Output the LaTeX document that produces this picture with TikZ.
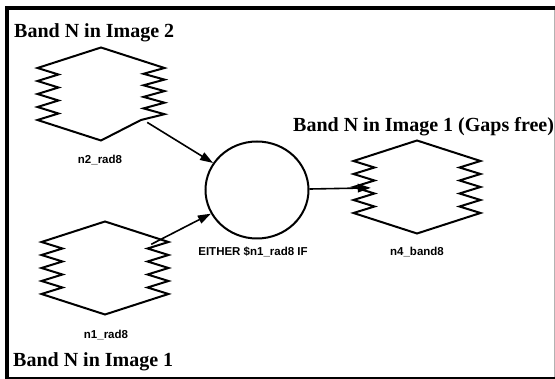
\documentclass[tikz,border=0pt]{standalone}
\usepackage{fontspec}
\setmainfont{Liberation Serif}
\setsansfont{Liberation Sans}
\usetikzlibrary{arrows.meta,shapes.geometric}

\tikzset{
  wire/.style={line width=2pt},
  link/.style={line width=1.6pt, -{Triangle[length=13pt,width=8.5pt]}},
  hexanchor/.style={rectangle, minimum width=92pt, minimum height=60pt, inner sep=0pt},
  ring/.style={ellipse, draw, line width=2pt, minimum width=103pt, minimum height=97pt, inner sep=0pt},
  title/.style={font=\bfseries\fontsize{20}{24}\selectfont, inner sep=0pt, anchor=base west},
  tag/.style={font=\sffamily\bfseries\fontsize{11.5}{13}\selectfont, inner sep=0pt},
  % hexagon whose two vertical sides are zigzags, both ending on the outer side
  zzhex/.pic={
    \draw[wire, line join=miter]
      (0,-46.5) -- (-63.5,-26) -- (-42.5,-19.5) -- (-63.5,-13) -- (-42.5,-6.5)
      -- (-63.5,0) -- (-42.5,6.5) -- (-63.5,13) -- (-42.5,19.5) -- (-63.5,26)
      -- (0,46.5) -- (63.5,26) -- (42.5,19.5) -- (63.5,13) -- (42.5,6.5)
      -- (63.5,0) -- (42.5,-6.5) -- (63.5,-13) -- (42.5,-19.5) -- (63.5,-26)
      -- cycle;
  },
  % variant whose right zigzag ends on its inner side
  zzhexb/.pic={
    \draw[wire, line join=miter]
      (0,-46.5) -- (-63.5,-26) -- (-42.5,-19.5) -- (-63.5,-13) -- (-42.5,-6.5)
      -- (-63.5,0) -- (-42.5,6.5) -- (-63.5,13) -- (-42.5,19.5) -- (-63.5,26)
      -- (0,46.5) -- (40,26) -- (63.5,20.2) -- (42.5,14.4) -- (63.5,8.7)
      -- (42.5,2.9) -- (63.5,-2.9) -- (42.5,-8.7) -- (63.5,-14.4) -- (42.5,-20.2)
      -- (63.5,-26) -- cycle;
  }
}

\begin{document}
\begin{tikzpicture}[x=1pt, y=-1pt]
  \useasboundingbox (0,0) rectangle (555,379);
  \fill[white] (0,0) rectangle (555,379);

  % hexagon blocks
  \node[hexanchor] (n2) at (101,94) {};
  \pic at (n2.center) {zzhexb};
  \node[hexanchor] (n1) at (105,268) {};
  \pic at (n1.center) {zzhex};
  \node[hexanchor] (n4) at (417,187) {};
  \pic at (n4.center) {zzhex};

  % condition node
  \node[ring] (c) at (257,190) {};

  % labels under the blocks
  \node[tag] (l2) at (100,160) {n2\_rad8};
  \node[tag] (l1) at (106,335) {n1\_rad8};
  \node[tag] (l4) at (417,252) {n4\_band8};
  \node[tag] (lc) at (253,252) {EITHER \$n1\_rad8 IF};

  % titles
  \node[title] (t2) at (14,38) {Band N in Image 2};
  \node[title] (t1) at (13,367) {Band N in Image 1};
  \node[title] (t4) at (293,132) {Band N in Image 1 (Gaps free)};

  % connectors
  \draw[link] (n2) -- (c);
  \draw[link] (n1) -- (c);
  \draw[link] (c) -- (n4);

  % frame
  \fill[black] (5,6) rectangle (555,10);
  \fill[black] (5,6) rectangle (8.5,379);
  \fill[black] (5,377) rectangle (555,379);
  \draw[gray!60, line width=1pt] (554,10) -- (554,377);
\end{tikzpicture}
\end{document}
